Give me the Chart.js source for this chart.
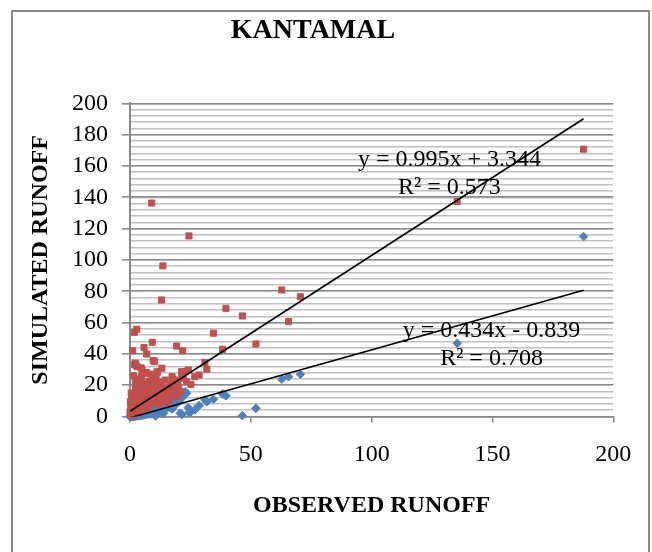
<!DOCTYPE html>
<html>
<head>
<meta charset="utf-8">
<script src="https://cdn.jsdelivr.net/npm/chart.js@4.4.1/dist/chart.umd.min.js"></script>
<style>
    body { margin: 0; background: #fff; }
    canvas { display: block; }
</style>
</head>
<body>
<canvas id="runoffChart" width="652" height="552"></canvas>
<script>
// observed runoff (shared x for both simulations)
var observed = [
    187.7, 135.4, 70.5, 65.6, 62.8, 52.1, 46.5, 39.7, 38.3, 34.5,
    31.8, 31.0, 28.6, 26.8, 25.2, 24.4, 24.1, 23.4, 22.9, 21.8,
    21.4, 21.5, 20.1, 19.3, 19.4, 18.7, 17.6, 17.4, 17.4, 16.7,
    16.0, 14.6, 13.9, 13.6, 13.2, 13.0, 12.5, 11.9, 11.3, 11.2,
    10.5, 10.5, 10.2, 9.8, 9.6, 9.2, 9.1, 9.0, 8.4, 7.7,
    7.2, 6.9, 6.9, 6.3, 5.8, 5.7, 5.0, 5.0, 4.6, 4.2,
    3.6, 3.3, 2.9, 2.9, 2.8, 2.2, 2.2, 2.2, 1.9, 1.8,
    1.5, 1.1, 0.8, 0.5, 0.1, 0.0, 15.0, 14.0, 12.0, 11.0,
    10.0, 8.5, 8.0, 7.5, 6.5, 6.0, 5.5, 5.2, 4.5, 4.0,
    3.8, 3.5, 3.0, 2.6, 2.4, 2.0, 1.8, 1.6, 1.3, 1.0,
    0.9, 0.6, 0.3, 0.2, 18.0, 19.8, 20.8, 22.2, 18.2, 16.2,
    15.5, 14.8, 13.5, 12.8, 11.5, 10.8, 9.5, 8.8, 7.9, 7.0,
    6.2, 5.4, 4.8, 4.4, 3.9, 3.2, 2.7, 2.3, 1.7, 1.2,
    0.7, 0.4
];

// simulated runoff, red squares
var simulatedRed = [
    170.7, 137.3, 76.5, 60.6, 80.8, 46.3, 64.2, 69.1, 42.9, 53.2,
    30.2, 34.4, 26.5, 25.4, 20.5, 115.3, 29.7, 22.2, 28.6, 41.9,
    28.6, 26.5, 18.0, 45.0, 12.7, 23.3, 24.0, 25.4, 15.8, 20.5,
    10.5, 23.3, 14.8, 96.2, 30.8, 74.4, 9.5, 17.5, 28.2, 28.6,
    20.1, 13.7, 35.0, 23.0, 35.7, 47.4, 8.4, 136.3, 21.2, 12.7,
    16.0, 39.9, 28.0, 27.6, 44.0, 7.3, 29.7, 11.6, 31.0, 18.0,
    19.5, 24.0, 31.8, 6.3, 55.7, 34.0, 21.6, 10.5, 33.0, 53.8,
    26.0, 42.0, 5.2, 15.0, 9.5, 3.0, 18.5, 12.0, 22.0, 11.0,
    16.5, 10.0, 18.5, 6.0, 14.0, 9.0, 21.0, 4.5, 13.0, 7.0,
    2.8, 11.0, 15.5, 4.0, 8.5, 2.5, 13.0, 6.5, 1.5, 9.0,
    3.5, 1.0, 6.0, 0.5, 19.0, 22.0, 16.0, 24.5, 14.0, 16.0,
    12.5, 9.0, 19.0, 14.5, 8.0, 24.0, 12.0, 27.0, 22.5, 9.5,
    19.0, 16.5, 25.5, 9.5, 20.5, 8.0, 13.5, 18.5, 10.0, 4.5,
    12.0, 2.0
];

// simulated runoff, blue diamonds
var simulatedBlue = [
    114.9, 46.8, 27.0, 25.4, 23.8, 5.2, 0.5, 13.2, 14.4, 11.0,
    9.4, 10.6, 7.0, 4.2, 3.0, 2.6, 5.6, 14.8, 15.8, 12.3,
    13.7, 1.2, 9.5, 8.2, 11.6, 11.0, 5.2, 8.4, 4.8, 8.0,
    6.3, 6.3, 2.0, 4.5, 2.0, 3.8, 4.2, 4.2, 3.5, 3.0,
    0.3, 3.2, 2.8, 3.0, 2.4, 2.2, 1.8, 2.5, 1.6, 1.6,
    2.2, 1.4, 1.8, 1.2, 1.5, 1.0, 1.0, 1.2, 0.8, 0.9,
    0.6, 0.7, 0.5, 0.4, 0.6, 0.5, 0.4, 0.3, 0.4, 0.5,
    0.3, 0.3, 0.2, 0.2, 0.1, 0.0, 7.5, 6.0, 5.5, 4.8,
    3.8, 2.6, 3.0, 2.0, 1.7, 1.4, 1.3, 1.1, 0.9, 0.8,
    0.7, 0.6, 0.6, 0.5, 0.4, 0.4, 0.3, 0.3, 0.2, 0.2,
    0.1, 0.1, 0.1, 0.0, 9.0, 10.2, 2.0, 13.7, 7.2, 5.8,
    6.8, 5.0, 6.6, 5.9, 4.5, 5.1, 4.0, 3.5, 2.9, 2.7,
    2.4, 2.0, 1.6, 1.9, 1.2, 1.4, 1.0, 0.9, 0.8, 0.6,
    0.4, 0.2
];

// linear trendlines: [slope, intercept, R²]
var fitRed = [0.995, 3.344, 0.573];
var fitBlue = [0.434, -0.839, 0.708];

var majorStep = 20;
var minorStep = 4;

var serif = "'Liberation Serif', 'Times New Roman', serif";
var axisGray = '#8a8a8a';

function toPoints(ys) {
    return observed.map(function (x, i) { return { x: x, y: ys[i] }; });
}

function trendPoints(fit) {
    var xEnd = Math.max.apply(null, observed);
    return [0, xEnd].map(function (x) { return { x: x, y: fit[0] * x + fit[1] }; });
}

function equationText(fit) {
    var sign = fit[1] < 0 ? ' - ' : ' + ';
    return 'y = ' + fit[0].toFixed(3) + 'x' + sign + Math.abs(fit[1]).toFixed(3);
}

// outer frame, title and trendline equations
var decorations = {
    id: 'decorations',
    beforeDraw: function (chart) {
        var ctx = chart.ctx;
        ctx.save();
        ctx.strokeStyle = axisGray;
        ctx.lineWidth = 2;
        ctx.strokeRect(12, 11, 637, 600);
        ctx.restore();
    },
    afterDraw: function (chart) {
        var ctx = chart.ctx;
        var xs = chart.scales.x, ys = chart.scales.y;
        ctx.save();
        ctx.fillStyle = '#000';
        ctx.textAlign = 'center';
        ctx.textBaseline = 'middle';

        ctx.font = 'bold 28px ' + serif;
        ctx.fillText('KANTAMAL', 313, 31);

        ctx.font = '24px ' + serif;
        var rx = xs.getPixelForValue(132.2), ry = ys.getPixelForValue(164);
        ctx.fillText(equationText(fitRed), rx, ry);
        ctx.fillText('R² = ' + fitRed[2].toFixed(3), rx, ry + 28);

        var bx = xs.getPixelForValue(149.6), by = ys.getPixelForValue(54.6);
        ctx.fillText(equationText(fitBlue), bx, by);
        ctx.fillText('R² = ' + fitBlue[2].toFixed(3), bx, by + 28);
        ctx.restore();
    }
};

var ctx = document.getElementById('runoffChart').getContext('2d');
var runoffChart = new Chart(ctx, {
    type: 'scatter',
    data: {
        datasets: [{
            label: 'Simulated (red)',
            data: toPoints(simulatedRed),
            pointStyle: 'rect',
            pointRadius: 4.3,
            backgroundColor: '#C0504D',
            borderColor: '#C0504D',
            borderWidth: 1,
            clip: false,
            order: 2
        }, {
            label: 'Simulated (blue)',
            data: toPoints(simulatedBlue),
            pointStyle: 'rectRot',
            pointRadius: 4.3,
            backgroundColor: '#4F81BD',
            borderColor: '#4F81BD',
            borderWidth: 1,
            clip: false,
            order: 3
        }, {
            type: 'line',
            label: 'Trend red',
            data: trendPoints(fitRed),
            borderColor: '#000',
            borderWidth: 1.6,
            pointRadius: 0,
            order: 1
        }, {
            type: 'line',
            label: 'Trend blue',
            data: trendPoints(fitBlue),
            borderColor: '#000',
            borderWidth: 1.6,
            pointRadius: 0,
            order: 1
        }]
    },
    options: {
        responsive: false,
        animation: false,
        layout: {
            padding: { top: 103.3, right: 38.7, left: 0, bottom: 0 }
        },
        plugins: {
            legend: { display: false },
            tooltip: { enabled: false }
        },
        scales: {
            x: {
                type: 'linear',
                min: 0,
                max: 200,
                afterFit: function (scale) { scale.height = 135.5; },
                ticks: {
                    stepSize: 50,
                    color: '#000',
                    padding: 18,
                    font: { family: serif, size: 24 }
                },
                grid: {
                    drawOnChartArea: false,
                    drawTicks: true,
                    tickLength: 6,
                    color: axisGray,
                    lineWidth: 1.6
                },
                border: { color: axisGray, width: 1.6 },
                title: {
                    display: true,
                    text: 'OBSERVED RUNOFF',
                    color: '#000',
                    font: { family: serif, size: 24, weight: 'bold' },
                    padding: { top: 4, bottom: 32 }
                }
            },
            // hidden helper axis that only draws the light minor gridlines
            yMinor: {
                type: 'linear',
                position: 'right',
                min: 0,
                max: 200,
                afterFit: function (scale) { scale.width = 0; },
                ticks: {
                    display: false,
                    stepSize: minorStep,
                    maxTicksLimit: 60,
                    autoSkip: false
                },
                grid: {
                    drawTicks: false,
                    color: '#c0c0c0',
                    lineWidth: 1.5
                },
                border: { display: false }
            },
            y: {
                type: 'linear',
                min: 0,
                max: 200,
                afterFit: function (scale) { scale.width = 130; },
                ticks: {
                    stepSize: majorStep,
                    autoSkip: false,
                    color: '#000',
                    padding: 14,
                    font: { family: serif, size: 24 }
                },
                grid: {
                    tickLength: 8,
                    color: axisGray,
                    lineWidth: 1.6
                },
                border: { color: axisGray, width: 2 },
                title: {
                    display: true,
                    text: 'SIMULATED RUNOFF',
                    color: '#000',
                    font: { family: serif, size: 24, weight: 'bold' },
                    padding: { top: 26.6, bottom: 4 }
                }
            }
        }
    },
    plugins: [decorations]
});
</script>
</body>
</html>
